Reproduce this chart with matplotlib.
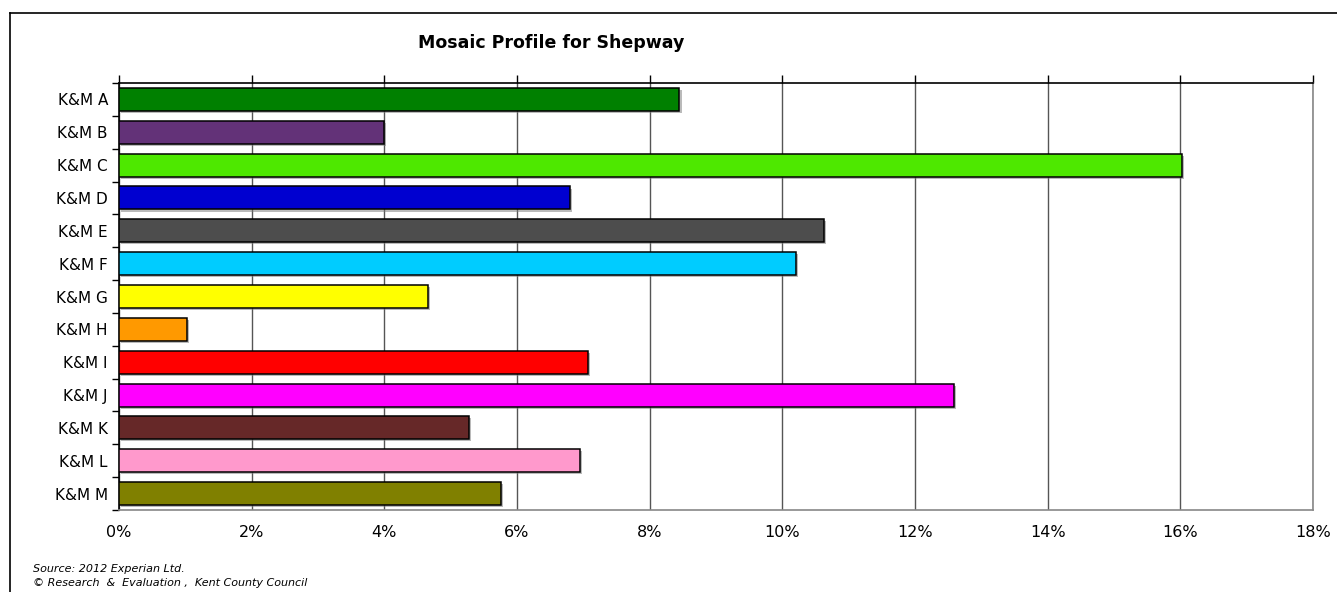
import matplotlib
matplotlib.use("Agg")
import matplotlib.pyplot as plt
import matplotlib.patheffects as pe
from matplotlib.lines import Line2D
from matplotlib.ticker import FixedLocator, FuncFormatter

plt.rcParams["font.family"] = ["DejaVu Sans"]

# data
categories = ["K&M A", "K&M B", "K&M C", "K&M D", "K&M E", "K&M F", "K&M G",
              "K&M H", "K&M I", "K&M J", "K&M K", "K&M L", "K&M M"]
shares = [8.45, 3.99, 16.02, 6.80, 10.63, 10.21, 4.66,
          1.02, 7.07, 12.59, 5.28, 6.95, 5.76]
bar_colors = ["#008000", "#633278", "#4EE800", "#0000D0", "#4D4D4D", "#00CCFF",
              "#FFFF00", "#FF9900", "#FF0000", "#FF00FF", "#662828", "#FF99CC",
              "#808000"]
x_ticks = [0, 2, 4, 6, 8, 10, 12, 14, 16, 18]

fig = plt.figure(figsize=(13.37, 5.92), dpi=100)
ax = fig.add_axes([0.089, 0.1385, 0.893, 0.7213])

pos = list(range(len(categories)))
bars = ax.barh(pos, shares, height=0.7, color=bar_colors, edgecolor="black",
               linewidth=1.1, zorder=3)
for b in bars:
    b.set_path_effects([pe.SimplePatchShadow(offset=(1.5, -1.5),
                                             shadow_rgbFace="#777777", alpha=0.5),
                        pe.Normal()])

ax.set_xlim(0, 18)
ax.set_ylim(len(categories) - 0.5, -0.5)

# x axis: labels at bottom, small ticks sticking up from the top edge
ax.xaxis.set_major_locator(FixedLocator(x_ticks))
ax.xaxis.set_major_formatter(FuncFormatter(lambda v, _: f"{v:.0f}%"))
ax.tick_params(axis="x", which="major", bottom=False, top=True, labeltop=False,
               labelbottom=True, direction="out", length=6, width=1,
               color="black", labelsize=11.5, pad=5)
ax.grid(axis="x", color="#555555", linewidth=1, zorder=1)

# y axis: category labels, ticks on the category boundaries
ax.set_yticks(pos)
ax.set_yticklabels(categories)
ax.tick_params(axis="y", which="major", length=0, labelsize=11, pad=8)
ax.yaxis.set_minor_locator(FixedLocator([p - 0.5 for p in pos] + [len(pos) - 0.5]))
ax.tick_params(axis="y", which="minor", length=5, width=1, color="black")

ax.spines["left"].set_color("black")
ax.spines["top"].set_color("black")
ax.spines["right"].set_color("#888888")
ax.spines["bottom"].set_color("#888888")
for s in ax.spines.values():
    s.set_linewidth(1.2)

fig.text(0.412, 0.928, "Mosaic Profile for Shepway", ha="center", va="center",
         fontsize=12.5, fontweight="bold")

fig.text(0.025, 0.039, "Source: 2012 Experian Ltd.", fontsize=8,
         style="italic", va="center")
fig.text(0.025, 0.016, "\u00a9 Research  &  Evaluation ,  Kent County Council",
         fontsize=8, style="italic", va="center")

# outer chart border (runs off the right and bottom edges)
fig.add_artist(Line2D([0.0075, 1.0], [0.978, 0.978], color="black", linewidth=1.2))
fig.add_artist(Line2D([0.0075, 0.0075], [0.0, 0.978], color="black", linewidth=1.2))

fig.savefig("out.png", dpi=100)
plt.close(fig)
